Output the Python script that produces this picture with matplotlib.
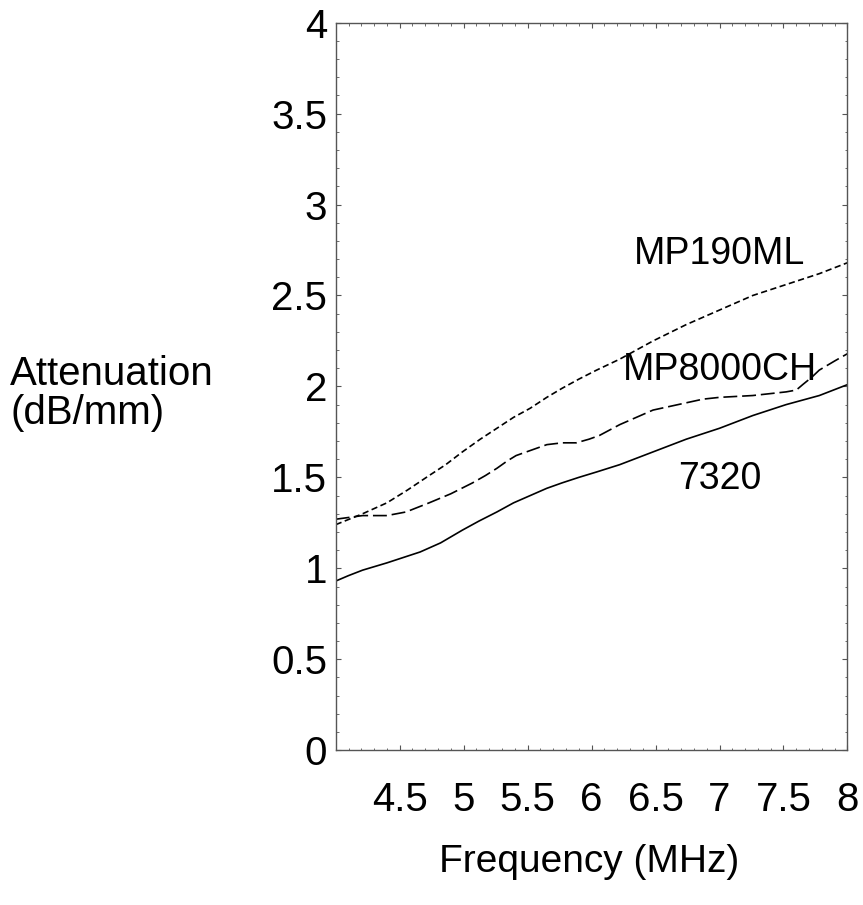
import numpy as np
import matplotlib
matplotlib.use("Agg")
import matplotlib.pyplot as plt
from matplotlib.ticker import MultipleLocator

plt.rcParams['font.family'] = ['Liberation Sans', 'DejaVu Sans']
plt.rcParams['lines.scale_dashes'] = False

# attenuation curves (frequency in MHz, dB/mm)
freq_7320 = [4.0, 4.10, 4.21, 4.40, 4.66, 4.82, 4.99, 5.12, 5.26, 5.39, 5.52, 5.65, 5.77, 5.90, 6.04, 6.22, 6.48, 6.74, 7.0, 7.26, 7.52, 7.78, 8.0]
att_7320 = [0.93, 0.96, 0.99, 1.03, 1.09, 1.14, 1.21, 1.26, 1.31, 1.36, 1.40, 1.44, 1.47, 1.50, 1.53, 1.57, 1.64, 1.71, 1.77, 1.84, 1.90, 1.95, 2.01]

freq_8000 = [4.0, 4.21, 4.40, 4.55, 4.73, 4.90, 5.07, 5.17, 5.26, 5.34, 5.41, 5.53, 5.65, 5.77, 5.88, 5.98, 6.06, 6.14, 6.22, 6.35, 6.48, 6.61, 6.74, 6.87, 7.0, 7.26, 7.52, 7.60, 7.65, 7.72, 7.78, 7.90, 8.0]
att_8000 = [1.27, 1.29, 1.29, 1.31, 1.36, 1.41, 1.47, 1.51, 1.55, 1.59, 1.62, 1.65, 1.68, 1.69, 1.69, 1.71, 1.73, 1.76, 1.79, 1.83, 1.87, 1.89, 1.91, 1.93, 1.94, 1.95, 1.97, 1.98, 2.01, 2.05, 2.09, 2.14, 2.18]

freq_190 = [4.0, 4.21, 4.40, 4.56, 4.73, 4.86, 4.99, 5.13, 5.26, 5.39, 5.52, 5.65, 5.77, 5.90, 6.04, 6.22, 6.48, 6.74, 7.0, 7.26, 7.52, 7.78, 8.0]
att_190 = [1.24, 1.30, 1.36, 1.43, 1.51, 1.57, 1.64, 1.71, 1.77, 1.83, 1.88, 1.94, 1.99, 2.04, 2.09, 2.15, 2.25, 2.34, 2.42, 2.50, 2.56, 2.62, 2.68]

labels = ["MP190ML", "MP8000CH", "7320"]
label_pos = [(7.0, 2.73), (7.0, 2.09), (7.0, 1.49)]

fig = plt.figure(figsize=(8.63, 9.05), dpi=100)
ax = fig.add_axes([0.389, 0.171, 0.593, 0.804])

ax.plot(freq_7320, att_7320, color='black', lw=1.2, ls='-')
ax.plot(freq_8000, att_8000, color='black', lw=1.2, ls=(0, (10, 3.5)))
ax.plot(freq_190, att_190, color='black', lw=1.2, ls=(0, (4.5, 2.5)))

for txt, (x, y) in zip(labels, label_pos):
    ax.text(x, y, txt, fontsize=27, ha='center', va='center')

ax.set_xlim(4, 8)
ax.set_ylim(0, 4)
ax.xaxis.set_minor_locator(MultipleLocator(0.1))
ax.yaxis.set_minor_locator(MultipleLocator(0.1))
ax.set_xticks([4.5, 5, 5.5, 6, 6.5, 7, 7.5, 8])
ax.set_xticklabels(['4.5', '5', '5.5', '6', '6.5', '7', '7.5', '8'])
ax.set_yticks([0, 0.5, 1, 1.5, 2, 2.5, 3, 3.5, 4])
ax.set_yticklabels(['0', '0.5', '1', '1.5', '2', '2.5', '3', '3.5', '4'])

ax.tick_params(which='both', direction='in', top=True, right=True, color='#555555')
ax.tick_params(which='major', length=3.5, width=0.8, labelsize=29)
ax.tick_params(axis='x', which='major', pad=22)
ax.tick_params(axis='y', which='major', pad=6)
ax.tick_params(which='minor', length=1.8, width=0.6)
for s in ax.spines.values():
    s.set_color('#555555')
    s.set_linewidth(1.0)

fig.text(0.012, 0.565, "Attenuation\n(dB/mm)", fontsize=29, ha='left', va='center',
         linespacing=1.05)
fig.text(0.683, 0.047, "Frequency (MHz)", fontsize=28, ha='center', va='center')

fig.savefig("out.png", dpi=100)
